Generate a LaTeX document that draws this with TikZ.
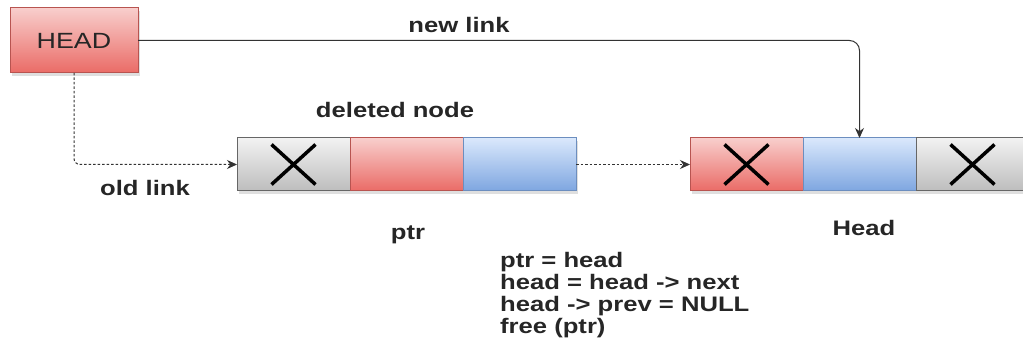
\documentclass[tikz,border=0pt]{standalone}
\usepackage{fontspec}
\setmainfont{Liberation Sans}[FakeStretch=1.22]
\usetikzlibrary{arrows.meta,shadows}
\definecolor{gtop}{HTML}{F2F2F2}
\definecolor{gbot}{HTML}{BDBDBD}
\definecolor{gline}{HTML}{666666}
\definecolor{rtop}{HTML}{F8CECC}
\definecolor{rbot}{HTML}{EA6B66}
\definecolor{rline}{HTML}{B85450}
\definecolor{btop}{HTML}{DAE8FC}
\definecolor{bbot}{HTML}{7EA6E0}
\definecolor{bline}{HTML}{6C8EBF}
\tikzset{
  cell/.style={minimum width=113pt, minimum height=53pt, inner sep=0pt, outer sep=0pt,
     draw, line width=1pt, drop shadow={shadow xshift=2pt, shadow yshift=-3pt, opacity=0.25}},
  greycell/.style={cell, draw=gline, top color=gtop, bottom color=gbot},
  redcell/.style={cell, draw=rline, top color=rtop, bottom color=rbot},
  bluecell/.style={cell, draw=bline, top color=btop, bottom color=bbot},
  lbl/.style={font=\fontsize{21}{22}\selectfont\bfseries, text=black!85, inner sep=0pt},
  arr/.style={draw=black!80, line width=1pt, -{Stealth[length=10pt,width=9pt]}},
  dsh/.style={arr, dash pattern=on 2.5pt off 2pt},
  xmark/.style={line width=3.5pt, draw=black}
}
\begin{document}
\begin{tikzpicture}[x=1pt,y=-1pt]
\useasboundingbox (0,0) rectangle (1023,358);
\clip (0,0) rectangle (1023,358);
\fill[white] (0,0) rectangle (1023,358);
% HEAD box
\node[redcell, minimum width=128pt, minimum height=65pt, font=\fontsize{22}{22}\selectfont, text=black!85] (head) at (74,40.5) {HEAD};
% node 1
\node[greycell] (c1a) at (293.5,164.5) {};
\node[redcell] (c1b) at (406.5,164.5) {};
\node[bluecell] (c1c) at (519.5,164.5) {};
% node 2
\node[redcell] (c2a) at (746.5,164.5) {};
\node[bluecell] (c2b) at (859.5,164.5) {};
\node[greycell] (c2c) at (972.5,164.5) {};
% X marks
\draw[xmark] ([shift={(-22,-20)}]c1a.center) -- ([shift={(22,20)}]c1a.center)
             ([shift={(-22,20)}]c1a.center) -- ([shift={(22,-20)}]c1a.center);
\draw[xmark] ([shift={(-22,-20)}]c2a.center) -- ([shift={(22,20)}]c2a.center)
             ([shift={(-22,20)}]c2a.center) -- ([shift={(22,-20)}]c2a.center);
\draw[xmark] ([shift={(-22,-20)}]c2c.center) -- ([shift={(22,20)}]c2c.center)
             ([shift={(-22,20)}]c2c.center) -- ([shift={(22,-20)}]c2c.center);
% connectors
\draw[arr, rounded corners=10pt] (head.east) -- (c2b.north |- head.east) -- (c2b.north);
\draw[dsh, rounded corners=6pt] (head.south) |- (c1a.west);
\draw[dsh] (c1c.east) -- (c2a.west);
% labels
\node[lbl] (lnew) at (459,25) {new link};
\node[lbl] (ldel) at (395,110) {deleted node};
\node[lbl] (lold) at (145,188) {old link};
\node[lbl] (lptr) at (408,235) {ptr};
\node[lbl] (lhead) at (864,228) {Head};
\node[lbl, anchor=north west, align=left] (code) at (500,252)
  {ptr = head\\head = head -> next\\head -> prev = NULL\\free (ptr)};
\end{tikzpicture}
\end{document}
